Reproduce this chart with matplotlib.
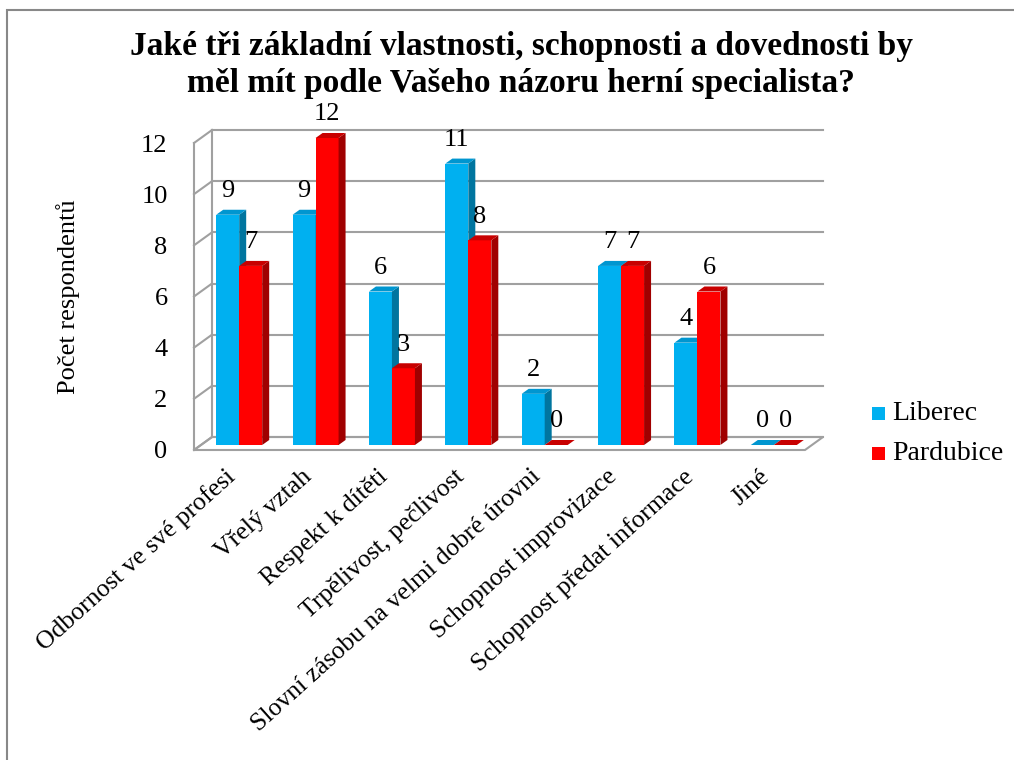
import matplotlib.pyplot as plt
from matplotlib.patches import Polygon, Rectangle

plt.rcParams['font.family'] = ['Liberation Serif', 'DejaVu Serif']

categories = ['Odbornost ve své profesi', 'Vřelý vztah', 'Respekt k dítěti',
              'Trpělivost, pečlivost', 'Slovní zásobu na velmi dobré úrovni',
              'Schopnost improvizace', 'Schopnost předat informace', 'Jiné']
liberec = [9, 9, 6, 11, 2, 7, 4, 0]
pardubice = [7, 12, 3, 8, 0, 7, 6, 0]
series_names = ['Liberec', 'Pardubice']
yticks = [0, 2, 4, 6, 8, 10, 12]

W, H = 1014, 760
fig = plt.figure(figsize=(W / 100, H / 100), dpi=100)

# front plane of the 3d box, in pixels
left, right, bottom, top = 194, 805, 450, 143
ax = fig.add_axes([left / W, 1 - bottom / H, (right - left) / W, (bottom - top) / H])
ax.set_xlim(-0.5, len(categories) - 0.5)
ax.set_ylim(0, 12)
for s in ax.spines.values():
    s.set_visible(False)
ax.patch.set_visible(False)

px_x = (right - left) / len(categories)
px_y = (bottom - top) / 12.0

def dxy(px, py):
    return px / px_x, py / px_y

grid_c = '#a0a0a0'
wx, wy = dxy(18, 13)
x0, x1 = -0.5, len(categories) - 0.5

# floor
ax.add_patch(Polygon([(x0, 0), (x1, 0), (x1 + wx, wy), (x0 + wx, wy)], closed=True,
                     facecolor='white', edgecolor=grid_c, lw=1.5, zorder=1, clip_on=False))
# back wall grid + side wall
for v in yticks:
    ax.plot([x0 + wx, x1 + wx], [v + wy, v + wy], color=grid_c, lw=1.5, zorder=1, clip_on=False)
    ax.plot([x0, x0 + wx], [v, v + wy], color=grid_c, lw=1.5, zorder=1, clip_on=False)
ax.plot([x0, x0], [0, 12], color=grid_c, lw=1.5, zorder=1, clip_on=False)
ax.plot([x0 + wx, x0 + wx], [wy, 12 + wy], color=grid_c, lw=1.5, zorder=1, clip_on=False)

# bars with depth
bw = 23 / px_x
fx, fy = dxy(7, 5)     # front face offset
ddx, ddy = dxy(7, 5)   # bar depth
styles = [('#00b0f0', '#0096d0', '#00759f'), ('#ff0000', '#c80000', '#a00000')]

z = 2
for i in range(len(categories)):
    for k, vals in enumerate([liberec, pardubice]):
        v = vals[i]
        front, topc, side = styles[k]
        xa = i + fx - bw + k * bw
        xb = xa + bw
        yb = fy
        yt = fy + v
        if v > 0:
            ax.add_patch(Rectangle((xa, yb), bw, v, facecolor=front, edgecolor='none',
                                   zorder=z, clip_on=False))
            ax.add_patch(Polygon([(xb, yb), (xb + ddx, yb + ddy), (xb + ddx, yt + ddy), (xb, yt)],
                                 closed=True, facecolor=side, edgecolor='none', zorder=z, clip_on=False))
        ax.add_patch(Polygon([(xa, yt), (xb, yt), (xb + ddx, yt + ddy), (xa + ddx, yt + ddy)],
                             closed=True, facecolor=topc, edgecolor='none', zorder=z, clip_on=False))
        z += 1
        ax.annotate(str(v), xy=((xa + xb) / 2, yt), xytext=(0, 17), textcoords='offset points',
                    ha='center', va='center', fontsize=19, zorder=50, annotation_clip=False)

ax.set_yticks(yticks)
ax.set_yticklabels([str(v) for v in yticks], fontsize=19)
ax.set_xticks(range(len(categories)))
ax.set_xticklabels(categories, fontsize=18.5)
ax.tick_params(axis='y', length=0, pad=19)
ax.tick_params(axis='x', length=0, pad=17)
plt.setp(ax.get_xticklabels(), rotation=42, ha='right', va='center', rotation_mode='anchor')

ax.set_ylabel('Počet respondentů', fontsize=19, labelpad=44)

fig.text(521 / W, 1 - 65 / H,
         'Jaké tři základní vlastnosti, schopnosti a dovednosti by\nměl mít podle Vašeho názoru herní specialista?',
         ha='center', va='center', fontsize=24, fontweight='bold', linespacing=1.22)

# legend
for k, name in enumerate(series_names):
    yy = 1 - (413 + 40 * k) / H
    fig.patches.append(Rectangle((872 / W, yy - 6.5 / H), 13 / W, 13 / H, transform=fig.transFigure,
                                 facecolor=styles[k][0], edgecolor='none'))
    fig.text(892 / W, yy, name, ha='left', va='center', fontsize=20)

# chart border
fig.patches.append(Rectangle((7 / W, -0.1), 1.2, 1.1 - 10 / H, transform=fig.transFigure,
                             fill=False, edgecolor='#888888', lw=1.5))

fig.savefig('out.png', dpi=100)
